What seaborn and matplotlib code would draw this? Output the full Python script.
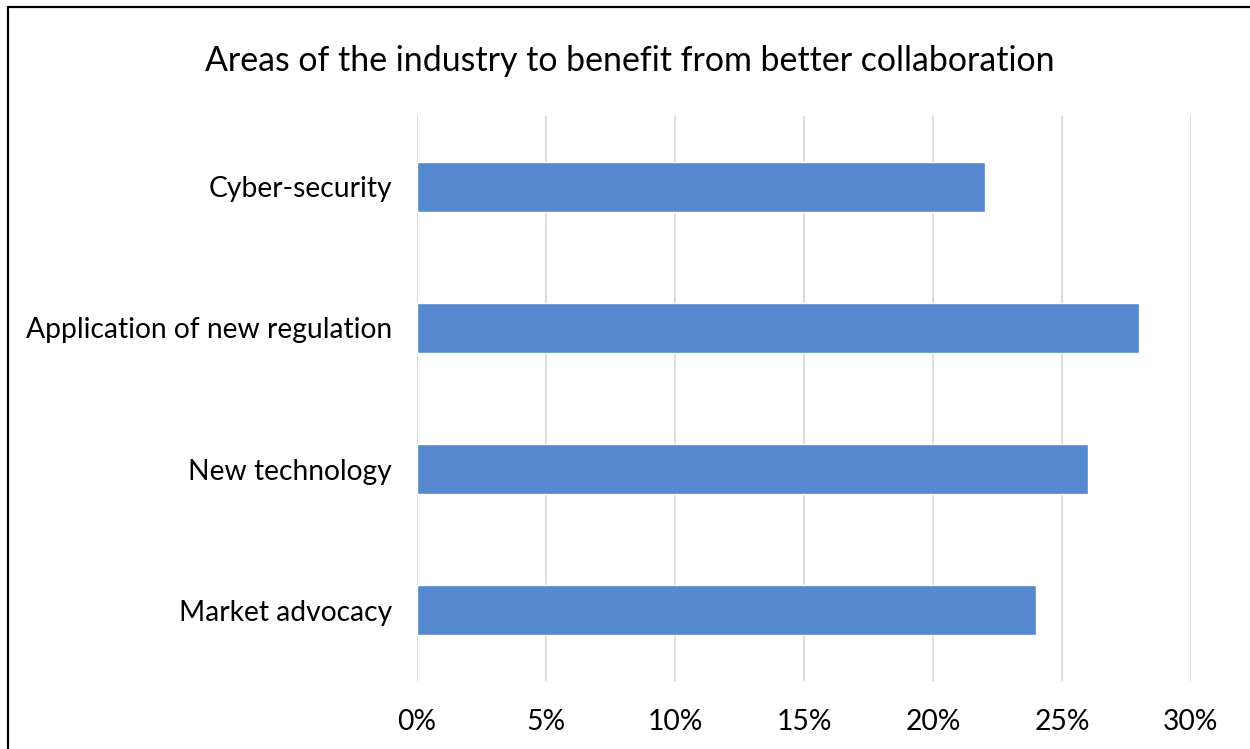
import matplotlib
matplotlib.use("Agg")
import matplotlib.pyplot as plt
import seaborn as sns
import pandas as pd
from matplotlib.lines import Line2D
from matplotlib.ticker import FuncFormatter

# data
categories = ["Cyber-security", "Application of new regulation", "New technology", "Market advocacy"]
shares = [22, 28, 26, 24]
x_ticks = [0, 5, 10, 15, 20, 25, 30]

df = pd.DataFrame({"area": categories, "share": shares})

sns.set_style("white")
plt.rcParams["font.family"] = ["Lato", "DejaVu Sans"]

fig = plt.figure(figsize=(12.5, 7.49), dpi=100)
ax = fig.add_axes([0.3336, 0.0908, 0.6192, 0.7543])

sns.barplot(data=df, x="share", y="area", orient="h", width=0.355,
            color="#5588CE", saturation=1, ax=ax, zorder=3)

ax.set_xlim(0, 30)
ax.set_xticks(x_ticks)
ax.xaxis.set_major_formatter(FuncFormatter(lambda v, p: f"{v:.0f}%"))
ax.grid(axis="x", color="#D9D9D9", linewidth=1.3, zorder=0)
ax.grid(axis="y", visible=False)
ax.set_axisbelow(True)
for s in ax.spines.values():
    s.set_visible(False)
ax.tick_params(axis="both", length=0, labelsize=20.3, colors="#000000")
ax.tick_params(axis="x", pad=20)
ax.tick_params(axis="y", pad=18)
ax.set_xlabel("")
ax.set_ylabel("")

fig.text(0.504, 0.918, "Areas of the industry to benefit from better collaboration",
         ha="center", va="center", fontsize=24.4, color="#000000")

# screenshot frame: left and top edges only
fig.add_artist(Line2D([0.006, 0.006], [0, 0.99], transform=fig.transFigure, color="black", linewidth=1.6))
fig.add_artist(Line2D([0.006, 1.0], [0.99, 0.99], transform=fig.transFigure, color="black", linewidth=1.6))

fig.savefig("out.png", dpi=100, facecolor="white")
